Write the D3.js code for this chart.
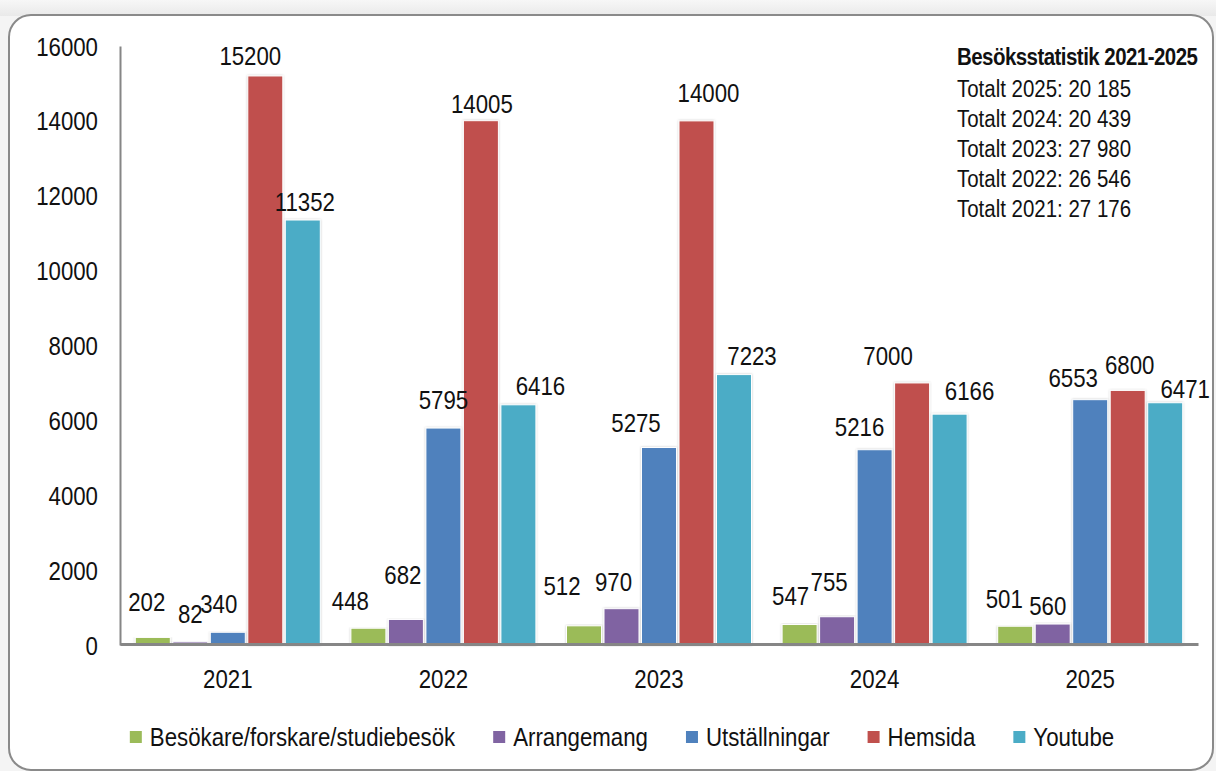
<!DOCTYPE html>
<html>
<head>
<meta charset="utf-8">
<script src="https://cdn.jsdelivr.net/npm/d3@7"></script>
<style>
  html, body { margin: 0; padding: 0; background: #f1f1f1; }
  svg { display: block; }
  text { font-family: "Liberation Sans Narrow", "Arial Narrow", "Liberation Sans", sans-serif; fill: #111; }
</style>
</head>
<body>
<svg id="chart" width="1216" height="771"></svg>
<script>
// ---- data ----
const years = ["2021", "2022", "2023", "2024", "2025"];
const seriesNames = ["Besökare/forskare/studiebesök", "Arrangemang", "Utställningar", "Hemsida", "Youtube"];
const besokare      = [202, 448, 512, 547, 501];
const arrangemang   = [82, 682, 970, 755, 560];
const utstallningar = [340, 5795, 5275, 5216, 6553];
const hemsida       = [15200, 14005, 14000, 7000, 6800];
const youtube       = [11352, 6416, 7223, 6166, 6471];
const yTicks = [0, 2000, 4000, 6000, 8000, 10000, 12000, 14000, 16000];
const noteTitle = "Besöksstatistik 2021-2025";
const noteLines = ["Totalt 2025: 20 185", "Totalt 2024: 20 439", "Totalt 2023: 27 980", "Totalt 2022: 26 546", "Totalt 2021: 27 176"];

// ---- style / layout ----
const colors = ["#9BBB59", "#8064A2", "#4F81BD", "#C0504D", "#4BACC6"];
const SX = 0.89; // horizontal condensing of the text (Calibri-like proportions)
// label nudges [dx, dy] relative to bar centre / bar top (pixels), per series per year
const labelNudge = [
  [[-6,-35],[-18,-27],[-22,-40],[-9,-29],[-11,-27]],
  [[0,-28],[-3,-44],[-8,-27],[-8,-35],[-5,-18]],
  [[-9,-28],[0,-28],[-23,-25],[-15,-23],[-17,-22]],
  [[-15,-20],[1,-17],[12,-28],[-24,-27],[2,-25]],
  [[2,-18],[22,-19],[18,-19],[20,-23],[20,-14]]
];

const seriesValues = [besokare, arrangemang, utstallningar, hemsida, youtube];
const svg = d3.select("#chart");

// background & frame
const defs = svg.append("defs");
const grad = defs.append("linearGradient").attr("id", "bg").attr("x1", 0).attr("y1", 0).attr("x2", 0).attr("y2", 1);
grad.append("stop").attr("offset", "0%").attr("stop-color", "#f7f7f7");
grad.append("stop").attr("offset", "100%").attr("stop-color", "#e9e9e9");
svg.append("rect").attr("x", 0).attr("y", 0).attr("width", 1216).attr("height", 771).attr("fill", "#f4f4f4");
svg.append("rect").attr("x", 0).attr("y", 0).attr("width", 1216).attr("height", 16).attr("fill", "url(#bg)");
svg.append("rect")
  .attr("x", 9).attr("y", 15).attr("width", 1204).attr("height", 755)
  .attr("rx", 22).attr("ry", 22)
  .attr("fill", "#fff").attr("stroke", "#8a8a8a").attr("stroke-width", 2);

const shadow = defs.append("filter").attr("id", "sh").attr("x", "-20%").attr("y", "-5%").attr("width", "140%").attr("height", "110%");
shadow.append("feDropShadow").attr("dx", 0).attr("dy", 0).attr("stdDeviation", 1.2)
  .attr("flood-color", "#000").attr("flood-opacity", 0.22);

const plotLeft = 120, plotRight = 1198, plotTop = 46, plotBottom = 645;

const x0 = d3.scaleBand().domain(years).range([plotLeft, plotRight]).paddingInner(0).paddingOuter(0);
const x1 = d3.scaleBand().domain(d3.range(seriesNames.length)).range([0, x0.bandwidth()])
  .paddingInner(0.0667).paddingOuter(0.408);
const y = d3.scaleLinear().domain([0, 16000]).range([plotBottom, plotTop]);

// bars
const groups = svg.append("g").selectAll("g").data(years).join("g")
  .attr("transform", d => `translate(${x0(d)},0)`);

const barData = (yr, yi) => seriesValues.map((vals, si) => ({ si, yi, v: vals[yi] }));

groups.selectAll("rect").data((d, i) => barData(d, i)).join("rect")
  .attr("x", d => x1(d.si))
  .attr("y", d => y(d.v))
  .attr("width", x1.bandwidth())
  .attr("height", d => y(0) - y(d.v))
  .attr("fill", d => colors[d.si])
  .attr("stroke", "#fff").attr("stroke-width", 1)
  .attr("filter", "url(#sh)");

const FONT = '"Liberation Sans Narrow", "Arial Narrow", "Liberation Sans", sans-serif';

// axes
const yAxis = d3.axisLeft(y).tickValues(yTicks).tickSize(0).tickPadding(0).tickFormat(d3.format("d"));
const gy = svg.append("g").attr("transform", `translate(${plotLeft},0)`).call(yAxis);
gy.select(".domain").attr("stroke", "#868686").attr("stroke-width", 2);
gy.selectAll("text").attr("font-size", 25).attr("dy", "0.36em").attr("x", 0)
  .attr("transform", `translate(-22,0) scale(${SX},1)`)
  .style("font-family", FONT).attr("fill", "#111");

const xAxis = d3.axisBottom(x0).tickSize(0).tickPadding(26);
const gx = svg.append("g").attr("transform", `translate(0,${plotBottom - 1})`).call(xAxis);
gx.select(".domain").attr("stroke", "#868686").attr("stroke-width", 3);
gx.selectAll("text").attr("font-size", 25).attr("transform", `scale(${SX},1)`)
  .style("font-family", FONT).attr("fill", "#111");

// data labels
groups.selectAll("g.lbl").data((d, i) => barData(d, i)).join("g")
  .attr("class", "lbl")
  .attr("transform", d => `translate(${x1(d.si) + x1.bandwidth() / 2 + labelNudge[d.si][d.yi][0]},${y(d.v) + labelNudge[d.si][d.yi][1]}) scale(${SX},1)`)
  .append("text")
  .attr("dy", "0.36em")
  .attr("text-anchor", "middle")
  .attr("font-size", 25)
  .text(d => d.v);

// annotation
const note = svg.append("g").attr("transform", `translate(957,0) scale(${SX},1)`);
note.append("text").attr("x", 0).attr("y", 65).attr("font-size", 23).attr("font-weight", "bold")
  .attr("letter-spacing", -0.6).text(noteTitle);
note.selectAll("text.line").data(noteLines).join("text").attr("class", "line")
  .attr("x", 0).attr("y", (d, i) => 97 + i * 30).attr("font-size", 23).text(d => d);

// legend
const legend = svg.append("g");
const items = legend.selectAll("g").data(seriesNames).join("g");
items.append("rect").attr("x", 0).attr("y", -6).attr("width", 12).attr("height", 12)
  .attr("fill", (d, i) => colors[i]);
items.append("text").attr("transform", `translate(20,0) scale(${SX},1)`)
  .attr("dy", "0.36em").attr("font-size", 25).text(d => d);
let cx = 0;
const widths = [];
items.each(function () { widths.push(d3.select(this).select("text").node().getComputedTextLength() * SX); });
items.attr("transform", (d, i) => { const t = `translate(${cx},0)`; cx += 20 + widths[i] + 38; return t; });
const totalW = cx - 38;
legend.attr("transform", `translate(${622 - totalW / 2},737)`);
</script>
</body>
</html>
